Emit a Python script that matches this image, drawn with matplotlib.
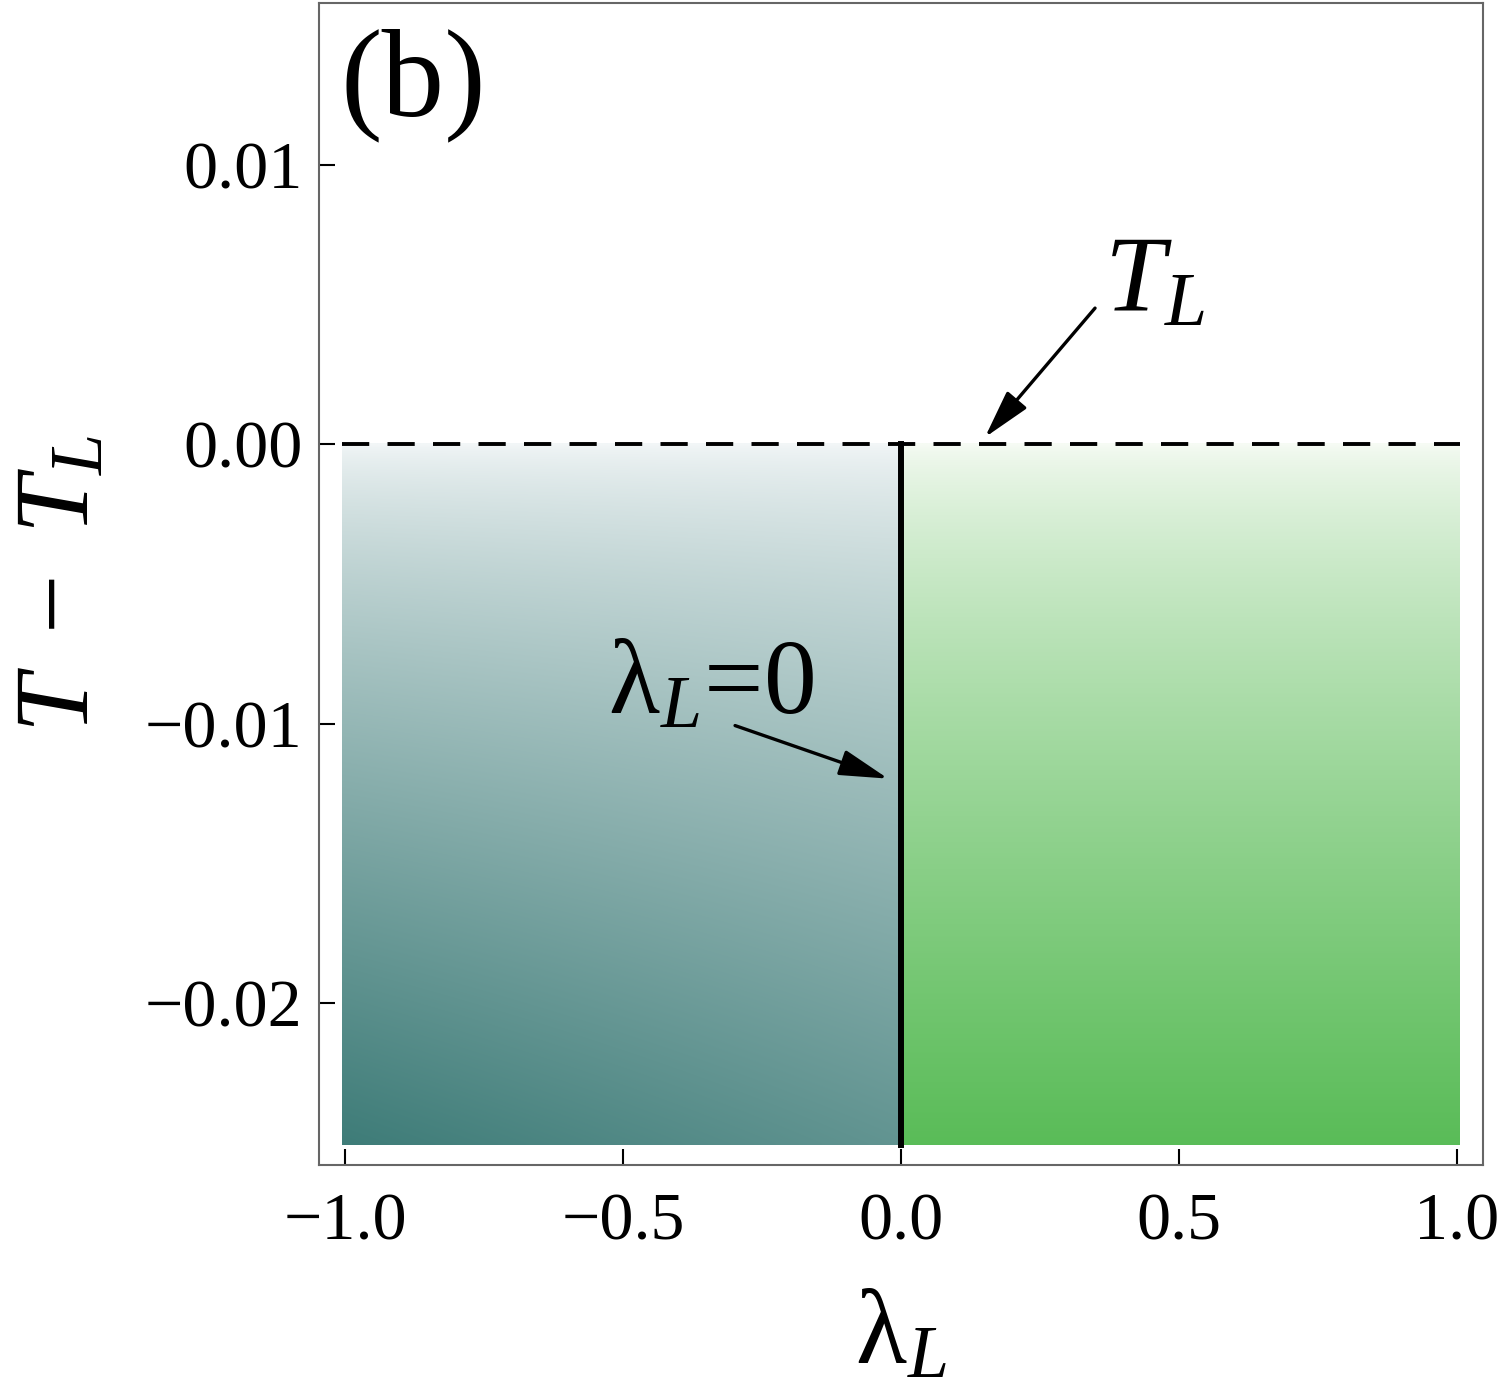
import numpy as np
import matplotlib
matplotlib.use("Agg")
import matplotlib.pyplot as plt
from matplotlib.colors import to_rgb

plt.rcParams['font.family'] = ['Liberation Serif', 'DejaVu Serif']
plt.rcParams['mathtext.fontset'] = 'custom'
plt.rcParams['mathtext.rm'] = 'Liberation Serif'
plt.rcParams['mathtext.it'] = 'Liberation Serif:italic'

# region extents (lambda_L, T - T_L)
lam_min, lam_max = -1.005, 1.005
dT_min, dT_max = -0.0251, 0.0
lam_c = 0.0          # lambda_L = 0 boundary
T_L_line = 0.0       # T = T_L

xticks = [-1.0, -0.5, 0.0, 0.5, 1.0]
xticklabels = ['\u22121.0', '\u22120.5', '0.0', '0.5', '1.0']
yticks = [0.01, 0.0, -0.01, -0.02]
yticklabels = ['0.01', '0.00', '\u22120.01', '\u22120.02']

# colour stops
left_top = '#f2f6f7'
left_dark = '#3e7c78'
right_top = '#f6fbf4'
right_dark = '#5abc58'

fig = plt.figure(figsize=(15, 13.94), dpi=100)
ax = fig.add_axes([0.2127, 0.1643, 0.776, 0.8336])

# left region: diagonal shading (darkest at bottom-left)
n = 200
t = np.linspace(0, 1, n)[:, None] ** 0.72   # 0 at top, 1 at bottom
s = np.linspace(1, 0, n)[None, :]           # 1 at lambda=-1, 0 at lambda=0
d = np.clip(t * (0.8 + 0.2 * s), 0, 1)
c0, c1 = np.array(to_rgb(left_top)), np.array(to_rgb(left_dark))
img_left = c0 + d[..., None] * (c1 - c0)
ax.imshow(img_left, extent=[lam_min, lam_c, dT_min, dT_max], origin='upper',
          aspect='auto', interpolation='bilinear', zorder=1)

# right region: vertical shading
d2 = np.repeat(t, 2, axis=1)
c0, c1 = np.array(to_rgb(right_top)), np.array(to_rgb(right_dark))
img_right = c0 + d2[..., None] * (c1 - c0)
ax.imshow(img_right, extent=[lam_c, lam_max, dT_min, dT_max], origin='upper',
          aspect='auto', interpolation='bilinear', zorder=1)

# boundary lines
ax.plot([lam_c, lam_c], [dT_min, T_L_line], color='black', lw=4.3, zorder=3)
ax.plot([lam_min, lam_max], [T_L_line, T_L_line], color='black', lw=2.8,
        dashes=(7, 4.7), zorder=3)

ax.set_xlim(-1.047, 1.047)
ax.set_ylim(-0.0258, 0.0158)

ax.set_xticks(xticks)
ax.set_xticklabels(xticklabels)
ax.set_yticks(yticks)
ax.set_yticklabels(yticklabels)
ax.tick_params(direction='in', length=11.5, width=1.5, color='black',
               labelsize=49, top=False, right=False)
ax.tick_params(axis='x', pad=20)
ax.tick_params(axis='y', pad=12)
for sp in ax.spines.values():
    sp.set_color('#666666')
    sp.set_linewidth(1.5)

ax.set_xlabel(r'$\mathrm{\lambda}_L$', fontsize=76, labelpad=26)
ax.set_ylabel(r'$T\ -\ T_L$', fontsize=76, labelpad=24)

ax.text(0.018, 0.978, '(b)', transform=ax.transAxes, fontsize=90,
        ha='left', va='top')

arrow = dict(arrowstyle='-|>,head_length=3.0,head_width=0.8', color='black',
             lw=2.4, shrinkA=0, shrinkB=0)
ax.annotate('', xy=(-0.0234, -0.01197), xytext=(-0.2986, -0.01007),
            arrowprops=arrow, zorder=4)
ax.text(-0.527, -0.00964, r'$\mathrm{\lambda}_L$=0', fontsize=76,
        ha='left', va='baseline', zorder=4)

ax.annotate('', xy=(0.151, 0.00025), xytext=(0.349, 0.004875),
            arrowprops=arrow, zorder=4)
ax.text(0.365, 0.0048, r'$T_L$', fontsize=78, ha='left', va='baseline',
        zorder=4)

fig.savefig('out.png', dpi=100)
